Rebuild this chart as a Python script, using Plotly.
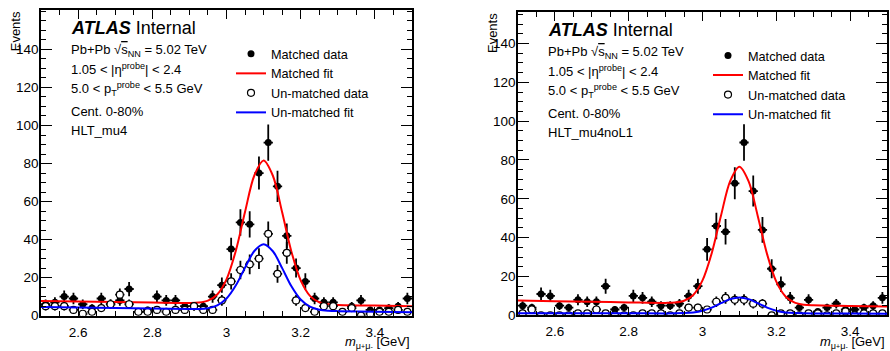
import numpy as np
import plotly.graph_objects as go

# ---------------- data ----------------
bin_low, bin_high, n_bins = 2.5, 3.5, 40
bin_width = (bin_high - bin_low) / n_bins
mass = [round(bin_low + (i + 0.5) * bin_width, 4) for i in range(n_bins)]

mu4_matched = [6, 7, 10, 9, 6, 4, 9, 6, 8, 14,
               2, 3, 10, 8, 8, 5, 5, 5, 10, 16,
               35, 49, 48, 75, 91, 68, 42, 25, 18, 9,
               7, 7, 2, 5, 8, 3, 3, 4, 5, 9]
mu4_unmatched = [5, 5, 5, 3, 1, 2, 4, 6, 11, 6,
                 2, 2, 3, 2, 3, 3, 5, 3, 3, 8,
                 18, 24, 27, 30, 43, 22, 33, 8, 4, 2,
                 5, 5, 2, 4, 0, 1, 2, 2, 3, 2]
noL1_matched = [5, 4, 11, 10, 5, 4, 8, 7, 7, 15,
                3, 4, 10, 9, 7, 5, 5, 6, 10, 15,
                34, 46, 43, 68, 89, 64, 44, 24, 16, 9,
                4, 8, 2, 4, 6, 3, 3, 4, 5, 9]
noL1_unmatched = [1, 3, 0, 0, 0, 0, 1, 1, 3, 1,
                  0, 0, 0, 1, 1, 1, 0, 1, 4, 4,
                  3, 7, 9, 8, 8, 6, 6, 0, 1, 1,
                  0, 1, 1, 0, 1, 2, 0, 1, 1, 1]

fit_mass = [2.5, 2.6, 2.7, 2.8, 2.9, 2.925, 2.95, 2.975, 3.0, 3.025, 3.05, 3.075,
            3.1, 3.125, 3.15, 3.175, 3.2, 3.225, 3.25, 3.275, 3.3, 3.4, 3.5]
mu4_matched_fit = [7.7, 7.43, 7.16, 6.89, 6.68, 6.87, 7.86, 11.10, 19.08, 34.03, 54.60, 73.70,
                   81.58, 73.56, 54.33, 33.63, 18.54, 10.42, 7.05, 5.93, 5.60, 5.27, 5.0]
mu4_unmatched_fit = [4.5, 4.23, 3.96, 3.69, 3.45, 3.50, 3.92, 5.37, 9.00, 15.83, 25.26, 34.0,
                     37.58, 33.86, 24.99, 15.43, 8.46, 4.69, 3.11, 2.56, 2.37, 2.07, 1.8]
noL1_matched_fit = [7.6, 7.29, 6.98, 6.67, 6.42, 6.58, 7.50, 10.52, 17.99, 31.99, 51.27, 69.16,
                    76.54, 69.0, 50.96, 31.53, 17.37, 9.74, 6.57, 5.50, 5.18, 4.81, 4.5]
noL1_unmatched_fit = [1.1, 1.08, 1.06, 1.04, 1.0, 1.04, 1.15, 1.51, 2.38, 4.01, 6.25, 8.34,
                      9.2, 8.34, 6.25, 4.01, 2.38, 1.51, 1.15, 1.04, 1.0, 0.9, 0.8]

x_ticks = [2.6, 2.8, 3.0, 3.2, 3.4]
x_tick_labels = ["2.6", "2.8", "3", "3.2", "3.4"]
y_ticks = [0, 20, 40, 60, 80, 100, 120, 140]
y_tick_labels = ["0", "20", "40", "60", "80", "100", "120", "140"]

triggers = ["HLT_mu4", "HLT_mu4noL1"]
legend_names = ["Matched data", "Matched fit", "Un-matched data", "Un-matched fit"]

# ---------------- layout geometry (pixels) ----------------
W, H = 890, 351
FONT = "Liberation Sans, Arial, Helvetica, sans-serif"
panels = [
    dict(x0=41, x1=412, y0=10.5, y1=323, ymax=160.6),
    dict(x0=518, x1=887, y0=12.3, y1=322.7, ymax=156.2),
]
datasets = [
    (mu4_matched, mu4_unmatched, mu4_matched_fit, mu4_unmatched_fit),
    (noL1_matched, noL1_unmatched, noL1_matched_fit, noL1_unmatched_fit),
]

fig = go.Figure()


def px_x(p):
    return p / W


def px_y(p):
    return 1 - p / H


annotations = []
for k, (pan, ds) in enumerate(zip(panels, datasets)):
    xa = "x" if k == 0 else "x2"
    ya = "y" if k == 0 else "y2"
    leg = "legend" if k == 0 else "legend2"
    matched, unmatched, mfit, ufit = ds
    fig.add_trace(go.Scatter(
        x=mass, y=matched, mode="markers", name=legend_names[0],
        xaxis=xa, yaxis=ya, legend=leg,
        marker=dict(symbol="circle", size=7, color="black"),
        error_y=dict(type="data", array=list(np.sqrt(matched)), width=0, thickness=1.8, color="black"),
        error_x=dict(type="constant", value=bin_width / 2, width=0, thickness=1.8, color="black"),
    ))
    fig.add_trace(go.Scatter(
        x=fit_mass, y=mfit, mode="lines", name=legend_names[1],
        xaxis=xa, yaxis=ya, legend=leg,
        line=dict(color="#ff0000", width=2, shape="spline", smoothing=0.9),
    ))
    fig.add_trace(go.Scatter(
        x=mass, y=unmatched, mode="markers", name=legend_names[2],
        xaxis=xa, yaxis=ya, legend=leg,
        marker=dict(symbol="circle", size=7, color="white", line=dict(color="black", width=1.2)),
        error_y=dict(type="data", array=list(np.sqrt(unmatched)), width=0, thickness=1.8, color="black"),
        error_x=dict(type="constant", value=bin_width / 2, width=0, thickness=1.8, color="black"),
    ))
    fig.add_trace(go.Scatter(
        x=fit_mass, y=ufit, mode="lines", name=legend_names[3],
        xaxis=xa, yaxis=ya, legend=leg,
        line=dict(color="#0000ff", width=2, shape="spline", smoothing=0.9),
    ))

    xkey = "xaxis" if k == 0 else "xaxis2"
    ykey = "yaxis" if k == 0 else "yaxis2"
    fig.update_layout(**{
        xkey: dict(
            domain=[px_x(pan["x0"]), px_x(pan["x1"])], anchor=ya, range=[bin_low, bin_high],
            tickmode="array", tickvals=x_ticks, ticktext=x_tick_labels,
            ticks="inside", ticklen=9, tickwidth=1.2, tickcolor="black",
            minor=dict(ticks="inside", ticklen=5, tickwidth=1, tickcolor="black",
                       tickmode="linear", tick0=2.5, dtick=0.05),
            showline=True, linecolor="black", linewidth=1.5, mirror="allticks",
            showgrid=False, zeroline=False, ticklabelstandoff=3,
            tickfont=dict(family=FONT, size=13.5, color="black"),
        ),
        ykey: dict(
            domain=[px_y(pan["y1"]), px_y(pan["y0"])], anchor=xa, range=[0, pan["ymax"]],
            tickmode="array", tickvals=y_ticks, ticktext=y_tick_labels,
            ticks="inside", ticklen=11, tickwidth=1.2, tickcolor="black",
            minor=dict(ticks="inside", ticklen=5.5, tickwidth=1, tickcolor="black",
                       tickmode="linear", tick0=0, dtick=5),
            showline=True, linecolor="black", linewidth=1.5, mirror="allticks",
            showgrid=False, zeroline=False, ticklabelstandoff=-2,
            tickfont=dict(family=FONT, size=13.5, color="black"),
        ),
        leg: dict(
            x=px_x(pan["x0"] + 230 - 40), xanchor="left",
            y=px_y(40 + (pan["y0"] - 10.5)), yanchor="top",
            bgcolor="rgba(0,0,0,0)", borderwidth=0,
            font=dict(family=FONT, size=12.7, color="black"),
            tracegroupgap=0,
        ),
    })

    tx = pan["x0"] + 28
    dy = pan["y0"] - 10.5
    lines = [
        ("<b><i>ATLAS</i></b> Internal", 29, 18),
        ("Pb+Pb √<span style='text-decoration:overline'>s</span><sub>NN</sub> = 5.02 TeV", 51.5, 13),
        ("1.05 < |η<sup>probe</sup>| < 2.4", 71, 13),
        ("5.0 < p<sub>T</sub><sup>probe</sup> < 5.5 GeV", 91.5, 13),
        ("Cent. 0-80%", 114, 13),
        (triggers[k], 134, 13),
    ]
    for text, yc, fs in lines:
        annotations.append(dict(
            text=text, xref="paper", yref="paper", x=px_x(tx), y=px_y(yc + dy),
            xanchor="left", yanchor="middle", showarrow=False,
            font=dict(family=FONT, size=fs, color="black"),
        ))
    # axis titles
    annotations.append(dict(
        text="Events", xref="paper", yref="paper", x=px_x(pan["x0"] - 26), y=px_y(pan["y0"] - 1),
        xanchor="center", yanchor="top", textangle=-90, showarrow=False,
        font=dict(family=FONT, size=13, color="black"),
    ))
    annotations.append(dict(
        text="<i>m</i><sub>μ<span style='font-size:7px'>+</span>μ<span style='font-size:7px'>-</span></sub> [GeV]",
        xref="paper", yref="paper",
        x=px_x(pan["x1"]), y=px_y(350), xanchor="right", yanchor="middle", showarrow=False,
        font=dict(family=FONT, size=13, color="black"),
    ))

fig.update_layout(
    width=W, height=H, margin=dict(l=0, r=0, t=0, b=0),
    paper_bgcolor="white", plot_bgcolor="white",
    annotations=annotations, showlegend=True,
)

fig.write_html("out.html")
